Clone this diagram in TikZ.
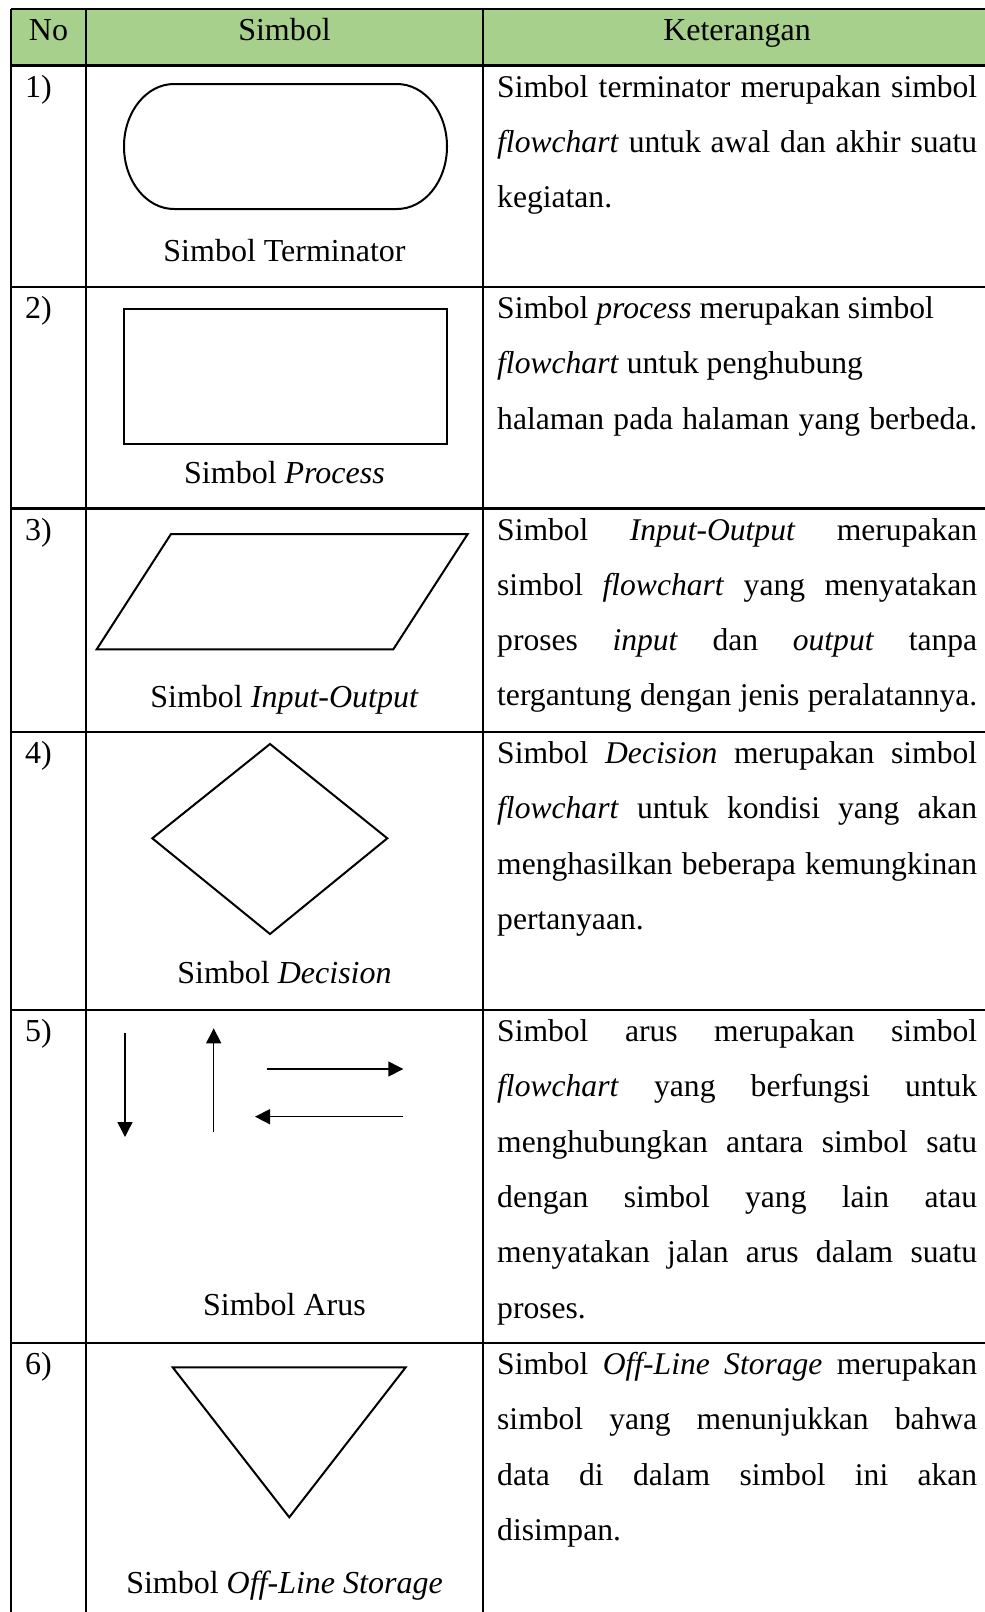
\documentclass[tikz,border=0pt]{standalone}
\usepackage{fontspec}
\setmainfont{Liberation Serif}
\usepackage{tikz}
\usetikzlibrary{arrows.meta}

\definecolor{headgreen}{RGB}{168,208,141}
% one justified line of the Keterangan column
\newcommand{\jl}[1]{\makebox[480pt][s]{\spaceskip=0pt\xspaceskip=0pt #1}}

\begin{document}
\begin{tikzpicture}[x=1pt,y=-1pt,
  font=\fontsize{32}{55.3}\selectfont,
  grid/.style={line width=2.6pt},
  shp/.style={draw,line width=2pt,line join=miter},
  arr/.style={line width=1.4pt,-{Triangle[length=15pt,width=15pt]}},
  num/.style={anchor=base west,inner sep=0pt},
  capt/.style={anchor=base,inner sep=0pt},
  ket/.style={anchor=base west,inner sep=0pt,text width=482pt,align=justify,
    font=\fontsize{31.6}{55.3}\selectfont}]
  \useasboundingbox (0,0) rectangle (985,1612);
  \clip (0,0) rectangle (985,1612);

  % table
  \fill[headgreen] (11,9) rectangle (995,65.5);
  \foreach \y in {9,65.5,287,508.5,732,1010,1343}
    \draw[grid] (11,\y) -- (995,\y);
  \foreach \x in {11,86,483}
    \draw[grid] (\x,9) -- (\x,1620);

  \node[capt] (hno) at (48.5,40) {No};
  \node[capt] (hsim) at (284.5,40) {Simbol};
  \node[capt] (hket) at (737,40) {Keterangan};

  % row numbers
  \foreach \r/\y in {1/97,2/318.5,3/540,4/763.5,5/1041.5,6/1374.5}
    \node[num] (n\r) at (25,\y) {\r)};

  % 1) terminator
  \draw[shp] (174,84) -- (397,84)
    arc[start angle=-90,end angle=90,x radius=50,y radius=62.5]
    -- (174,209) arc[start angle=90,end angle=270,x radius=50,y radius=62.5]
    -- cycle;
  \node[capt] (c1) at (284.5,261.7) {Simbol Terminator};

  % 2) process
  \draw[shp] (124.3,309.3) rectangle (446.7,444.3);
  \node[capt] (c2) at (284.5,483.3) {Simbol \textit{Process}};

  % 3) input-output
  \draw[shp] (171,534) -- (467.7,534) -- (393.3,649.3) -- (96.7,649.3) -- cycle;
  \node[capt] (c3) at (284.5,707.5) {Simbol \textit{Input-Output}};

  % 4) decision
  \draw[shp] (270,744) -- (387.3,838.3) -- (270,934) -- (152.3,838.3) -- cycle;
  \node[capt] (c4) at (284.5,983.3) {Simbol \textit{Decision}};

  % 5) arus
  \coordinate (d0) at (125,1033);    \coordinate (d1) at (125,1137);
  \coordinate (u0) at (213.7,1131.7); \coordinate (u1) at (213.7,1028.3);
  \coordinate (r0) at (266.7,1069);  \coordinate (r1) at (403.3,1069);
  \coordinate (l0) at (403.3,1116.7); \coordinate (l1) at (255,1116.7);
  \draw[arr] (d0) -- (d1);
  \draw[arr] (u0) -- (u1);
  \draw[arr] (r0) -- (r1);
  \draw[arr] (l0) -- (l1);
  \node[capt] (c5) at (284.5,1315) {Simbol Arus};

  % 6) off-line storage
  \draw[shp] (172.7,1367.3) -- (405.7,1367.3) -- (289.3,1517.3) -- cycle;
  \node[capt] (c6) at (284.5,1593) {Simbol \textit{Off-Line Storage}};

  % keterangan
  \node[ket] (k1) at (497,97) {\jl{Simbol terminator merupakan simbol}\\
    \jl{\textit{flowchart} untuk awal dan akhir suatu}\\
    kegiatan.};
  \node[ket] (k2) at (497,318.5) {Simbol \textit{process} merupakan simbol\\
    \textit{flowchart} untuk penghubung\\
    \jl{halaman pada halaman yang berbeda.}};
  \node[ket] (k3) at (497,540) {\jl{Simbol \textit{Input-Output} merupakan}\\
    \jl{simbol \textit{flowchart} yang menyatakan}\\
    \jl{proses \textit{input} dan \textit{output} tanpa}\\
    \jl{tergantung dengan jenis peralatannya.}};
  \node[ket] (k4) at (497,763.5) {\jl{Simbol \textit{Decision} merupakan simbol}\\
    \jl{\textit{flowchart} untuk kondisi yang akan}\\
    \jl{menghasilkan beberapa kemungkinan}\\
    pertanyaan.};
  \node[ket] (k5) at (497,1041.5) {\jl{Simbol arus merupakan simbol}\\
    \jl{\textit{flowchart} yang berfungsi untuk}\\
    \jl{menghubungkan antara simbol satu}\\
    \jl{dengan simbol yang lain atau}\\
    \jl{menyatakan jalan arus dalam suatu}\\
    proses.};
  \node[ket] (k6) at (497,1374.5) {\jl{Simbol \textit{Off-Line Storage} merupakan}\\
    \jl{simbol yang menunjukkan bahwa}\\
    \jl{data di dalam simbol ini akan}\\
    disimpan.};
\end{tikzpicture}
\end{document}
